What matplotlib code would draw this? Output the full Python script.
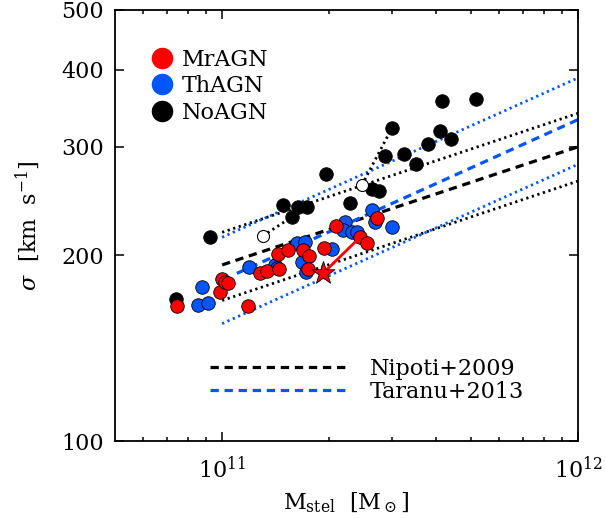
import matplotlib
matplotlib.use("Agg")
import matplotlib.pyplot as plt
from matplotlib.lines import Line2D
from matplotlib.ticker import FixedLocator, FixedFormatter, NullLocator, NullFormatter, LogFormatterMathtext

# Stellar masses in units of 1e11 Msun, sigma in km/s
mr_mass = [0.747, 0.987, 1.00, 1.02, 1.04, 1.183, 1.279, 1.338, 1.446, 1.436,
           1.532, 1.689, 1.756, 1.744, 1.934, 2.091, 2.441, 2.555, 2.725]
mr_sigma = [165.6, 174.5, 183, 181, 180.4, 165.6, 187.3, 188.7, 190, 201,
            204, 204, 199.5, 190, 205.6, 223, 214, 209.5, 230]

th_mass = [0.879, 0.856, 0.913, 1.191, 1.409, 1.427, 1.624, 1.711, 1.678,
           1.722, 2.037, 2.216, 2.187, 2.318, 2.394, 2.638, 2.690, 3.002]
th_sigma = [178, 166, 167.5, 191.5, 193, 191, 209.5, 210, 195,
            188, 205, 226.5, 220, 218, 218, 237, 226.5, 222]

no_mass = [0.743, 0.925, 1.484, 1.573, 1.635, 1.733, 1.960, 2.288, 2.638, 2.761,
           2.870, 3.002, 3.245, 3.507, 3.791, 4.098, 4.150, 4.398, 5.170]
no_sigma = [170, 214, 241, 231, 240, 240, 271, 243, 256, 254,
            290, 322, 292, 281, 303, 318, 356, 309, 359]

# open circles and star
open_mass = [1.30, 2.47]
open_sigma = [215, 260]
star_mass = [1.92]
star_sigma = [187]
star_link_mass = [1.92, 2.441]
star_link_sigma = [187, 214]

# reference relations
nipoti_mass = [1.0, 10.0]
nipoti_sigma = [193, 300]
taranu_mass = [1.10, 10.0]
taranu_sigma = [187, 332]

# dotted fits
fit_black_hi_mass = [1.0, 10.0]
fit_black_hi_sigma = [218, 340]
fit_blue_hi_mass = [1.0, 10.0]
fit_blue_hi_sigma = [214, 388]
fit_black_lo_mass = [1.0, 10.0]
fit_black_lo_sigma = [169, 264]
fit_blue_lo_mass = [1.0, 10.0]
fit_blue_lo_sigma = [155, 281]
link1_mass = [1.30, 1.573]
link1_sigma = [215, 231]
link2_mass = [2.47, 3.002]
link2_sigma = [260, 322]

RED = "#ff0000"
BLUE = "#0055ff"

plt.rcParams['font.family'] = 'DejaVu Serif'
plt.rcParams['mathtext.fontset'] = 'dejavuserif'


def e11(v):
    return [x * 1e11 for x in v]


fig = plt.figure(figsize=(6.06, 5.19), dpi=100)
ax = fig.add_axes([115 / 606, 1 - 441 / 519, 463 / 606, 431 / 519])
ax.set_xscale('log')
ax.set_yscale('log')

dot = (0, (0.8, 1.3))
dash = (0, (2.6, 1.8))

ax.plot(e11(fit_black_hi_mass), fit_black_hi_sigma, color='k', ls=dot, lw=2.0)
ax.plot(e11(fit_blue_hi_mass), fit_blue_hi_sigma, color=BLUE, ls=dot, lw=2.0)
ax.plot(e11(fit_black_lo_mass), fit_black_lo_sigma, color='k', ls=dot, lw=2.0)
ax.plot(e11(fit_blue_lo_mass), fit_blue_lo_sigma, color=BLUE, ls=dot, lw=2.0)
ax.plot(e11(link1_mass), link1_sigma, color='k', ls=dot, lw=2.0)
ax.plot(e11(link2_mass), link2_sigma, color='k', ls=dot, lw=2.0)
ax.plot(e11(nipoti_mass), nipoti_sigma, color='k', ls=dash, lw=2.3)
ax.plot(e11(taranu_mass), taranu_sigma, color=BLUE, ls=dash, lw=2.3)

ax.scatter(e11(no_mass), no_sigma, s=95, c='k', edgecolors='k', linewidths=0.6, zorder=3)
ax.scatter(e11(th_mass), th_sigma, s=95, c=BLUE, edgecolors='k', linewidths=0.6, zorder=4)
ax.scatter(e11(mr_mass), mr_sigma, s=95, c=RED, edgecolors='k', linewidths=0.6, zorder=5)
ax.scatter(e11(open_mass), open_sigma, s=75, facecolors='white', edgecolors='k', linewidths=0.8, zorder=5)
ax.plot(e11(star_link_mass), star_link_sigma, color=RED, lw=2, zorder=5)
ax.scatter(e11(star_mass), star_sigma, s=300, marker='*', c=RED, edgecolors='k', linewidths=0.6, zorder=6)

ax.set_xlim(5e10, 1e12)
ax.set_ylim(100, 500)

ax.xaxis.set_major_locator(FixedLocator([1e11, 1e12]))
ax.xaxis.set_major_formatter(LogFormatterMathtext())
ax.xaxis.set_minor_locator(FixedLocator([6e10, 7e10, 8e10, 9e10] + [k * 1e11 for k in range(2, 10)]))
ax.xaxis.set_minor_formatter(NullFormatter())
ax.yaxis.set_major_locator(FixedLocator([100, 200, 300, 400, 500]))
ax.yaxis.set_major_formatter(FixedFormatter(['100', '200', '300', '400', '500']))
ax.yaxis.set_minor_locator(NullLocator())

ax.tick_params(which='both', direction='in', top=True, right=True, width=1.1)
ax.tick_params(which='major', length=6.5, labelsize=16)
ax.tick_params(which='minor', length=3)
ax.tick_params(axis='x', pad=11)
ax.tick_params(axis='y', pad=8)
for s in ax.spines.values():
    s.set_linewidth(1.3)

ax.set_xlabel(r'M$_{\rm stel}$  [M$_\odot$]', fontsize=16, labelpad=6)
ax.set_ylabel(r'$\sigma$  [km  s$^{-1}$]', fontsize=16, labelpad=14)

h1 = [Line2D([], [], marker='o', ls='none', color=c, markersize=15.5, markeredgewidth=0)
      for c in (RED, BLUE, 'k')]
leg1 = ax.legend(h1, ['MrAGN', 'ThAGN', 'NoAGN'], loc='upper left',
                 bbox_to_anchor=(0.078, 0.91), frameon=False, fontsize=16,
                 borderpad=0, borderaxespad=0, handlelength=1.0,
                 handletextpad=0.4, labelspacing=0.2)
ax.add_artist(leg1)

h2 = [Line2D([], [], color='k', ls=dash, lw=2.3), Line2D([], [], color=BLUE, ls=dash, lw=2.3)]
ax.legend(h2, ['Nipoti+2009', 'Taranu+2013'], loc='upper left',
          bbox_to_anchor=(0.205, 0.193), frameon=False, fontsize=16,
          borderpad=0, borderaxespad=0, handlelength=6.2,
          handletextpad=1.0, labelspacing=0.05)

fig.savefig('out.png', dpi=100)
